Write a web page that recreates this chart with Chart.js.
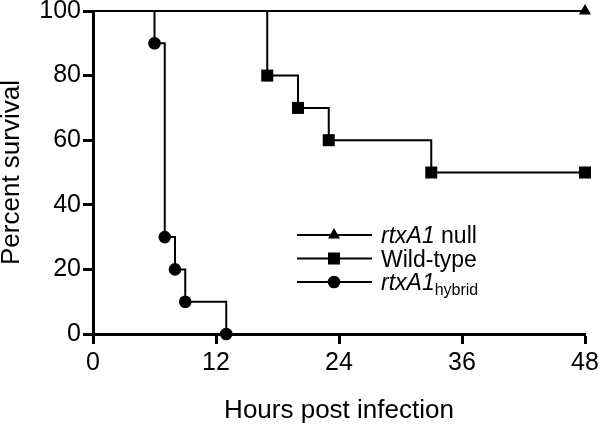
<!DOCTYPE html>
<html lang="en">
<head>
    <meta charset="UTF-8">
    <title>Percent survival</title>
    <style>
        body {
            margin: 0;
            background-color: #fff;
        }
        canvas {
            display: block;
        }
    </style>
</head>
<body>
    <canvas id="survivalChart" width="600" height="426"></canvas>

    <script src="https://cdn.jsdelivr.net/npm/chart.js"></script>

    <script>
        // Kaplan-Meier steps (hours, percent)
        const nullHours = [0, 48];
        const nullSurvival = [100, 100];
        const wildHours = [0, 17, 20, 23, 33, 48];
        const wildSurvival = [100, 80, 70, 60, 50, 50];
        const hybridHours = [0, 6, 7, 8, 9, 13];
        const hybridSurvival = [100, 90, 30, 20, 10, 0];
        const xTicks = [0, 12, 24, 36, 48];
        const yTicks = [0, 20, 40, 60, 80, 100];

        const FONT = 'Liberation Sans, Arial, Helvetica, sans-serif';

        function toPoints(xs, ys) {
            return xs.map((x, i) => ({ x: x, y: ys[i] }));
        }

        // no marker on the starting point at t = 0
        function radii(xs, r) {
            return xs.map((x, i) => (i === 0 ? 0 : r));
        }

        function series(label, xs, ys, style, r) {
            return {
                label: label,
                data: toPoints(xs, ys),
                stepped: 'before',
                borderColor: '#000',
                backgroundColor: '#000',
                borderWidth: 2,
                pointStyle: style,
                pointRadius: radii(xs, r),
                pointHoverRadius: radii(xs, r),
                pointBorderWidth: 0,
                clip: false
            };
        }

        // legend drawn by hand: line + marker, italic gene names, subscript
        const legendPlugin = {
            id: 'kmLegend',
            afterDraw(chart) {
                const ctx = chart.ctx;
                const rows = [
                    { style: 'triangle', r: 7, parts: [['italic', 'rtxA1', 23, 0], ['normal', ' null', 23, 0]] },
                    { style: 'rect', r: 8.5, parts: [['normal', 'Wild-type', 23, 0]] },
                    { style: 'circle', r: 6.3, parts: [['italic', 'rtxA1', 23, 0], ['normal', 'hybrid', 16, 5]] }
                ];
                const x0 = 297, x1 = 372, xm = 334, xt = 381;
                const ys = [235, 258.5, 282];
                ctx.save();
                rows.forEach((row, i) => {
                    const y = ys[i];
                    ctx.strokeStyle = '#000';
                    ctx.lineWidth = 2;
                    ctx.beginPath();
                    ctx.moveTo(x0, y);
                    ctx.lineTo(x1, y);
                    ctx.stroke();
                    ctx.fillStyle = '#000';
                    Chart.helpers.drawPoint(ctx, { pointStyle: row.style, radius: row.r, borderWidth: 0 }, xm, y);
                    let x = xt;
                    ctx.textBaseline = 'alphabetic';
                    ctx.textAlign = 'left';
                    row.parts.forEach(p => {
                        ctx.font = p[0] + ' ' + p[2] + 'px ' + FONT;
                        ctx.fillText(p[1], x, y + 8 + p[3]);
                        x += ctx.measureText(p[1]).width;
                    });
                });
                ctx.restore();
            }
        };

        const ctx = document.getElementById('survivalChart').getContext('2d');
        const chart = new Chart(ctx, {
            type: 'line',
            data: {
                datasets: [
                    series('rtxA1 null', nullHours, nullSurvival, 'triangle', 7),
                    series('Wild-type', wildHours, wildSurvival, 'rect', 8.5),
                    series('rtxA1 hybrid', hybridHours, hybridSurvival, 'circle', 6.3)
                ]
            },
            options: {
                responsive: false,
                animation: false,
                layout: { padding: { top: 11, right: 15, left: 0, bottom: 0 } },
                plugins: {
                    legend: { display: false },
                    tooltip: { enabled: false }
                },
                scales: {
                    x: {
                        type: 'linear',
                        min: 0,
                        max: 48,
                        afterBuildTicks: s => { s.ticks = xTicks.map(v => ({ value: v })); },
                        afterFit: s => {
                            s.height = 92;
                            s.paddingLeft = 0;
                            s.paddingRight = 0;
                        },
                        border: { display: true, color: '#000', width: 3 },
                        grid: { drawOnChartArea: false, drawTicks: true, tickLength: 10, tickWidth: 3, tickColor: '#000' },
                        ticks: { color: '#000', padding: 4, font: { family: FONT, size: 25 } },
                        title: {
                            display: true,
                            text: 'Hours post infection',
                            color: '#000',
                            font: { family: FONT, size: 26 },
                            padding: { top: 0, bottom: 0 }
                        }
                    },
                    y: {
                        min: 0,
                        max: 100,
                        afterBuildTicks: s => { s.ticks = yTicks.map(v => ({ value: v })); },
                        afterFit: s => {
                            s.width = 93;
                            s.paddingTop = 0;
                            s.paddingBottom = 0;
                        },
                        border: { display: true, color: '#000', width: 3 },
                        grid: { drawOnChartArea: false, drawTicks: true, tickLength: 10, tickWidth: 3, tickColor: '#000' },
                        ticks: { color: '#000', padding: 2, font: { family: FONT, size: 25 } },
                        title: {
                            display: true,
                            text: 'Percent survival',
                            color: '#000',
                            font: { family: FONT, size: 26, lineHeight: 0.9 },
                            padding: { top: 0, bottom: 0 }
                        }
                    }
                }
            },
            plugins: [legendPlugin]
        });
    </script>
</body>
</html>
